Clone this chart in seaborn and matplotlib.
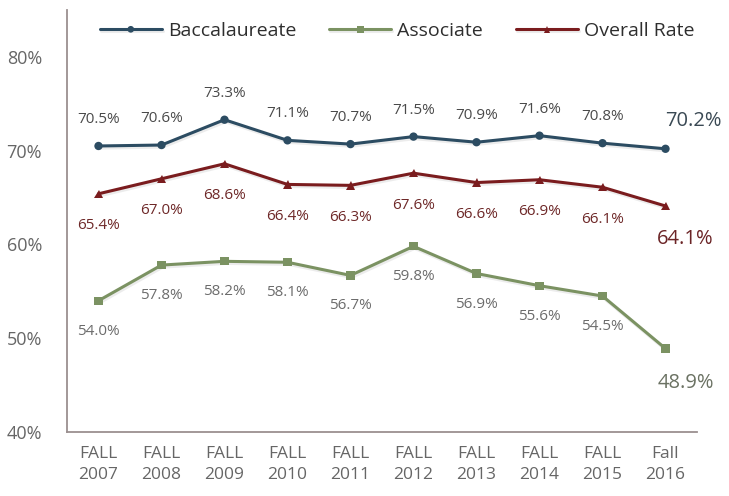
import matplotlib
matplotlib.use("Agg")
import matplotlib.pyplot as plt
import matplotlib.patheffects as pe
import seaborn as sns

# ── Data ──────────────────────────────────────────────────────────────────────
TERMS = ["FALL\n2007", "FALL\n2008", "FALL\n2009", "FALL\n2010", "FALL\n2011",
         "FALL\n2012", "FALL\n2013", "FALL\n2014", "FALL\n2015", "Fall\n2016"]
BACC    = [70.5, 70.6, 73.3, 71.1, 70.7, 71.5, 70.9, 71.6, 70.8, 70.2]
ASSOC   = [54.0, 57.8, 58.2, 58.1, 56.7, 59.8, 56.9, 55.6, 54.5, 48.9]
OVERALL = [65.4, 67.0, 68.6, 66.4, 66.3, 67.6, 66.6, 66.9, 66.1, 64.1]
Y_TICKS = [40, 50, 60, 70, 80]

# ── Colours ───────────────────────────────────────────────────────────────────
BLUE  = "#2c4c62"
GREEN = "#7b9262"
RED   = "#7a1c1e"
SPINE = "#9b9090"
TICK  = "#666666"

sns.set_theme(style="white")
plt.rcParams["font.family"] = ["Open Sans", "DejaVu Sans"]

fig = plt.figure(figsize=(7.29, 4.96), dpi=100)
ax = fig.add_axes([67 / 729, 64 / 496, 630 / 729, 422 / 496])

# faint drop shadow under the lines, as in the original
shadow = [pe.SimpleLineShadow(offset=(0.8, -1.5), shadow_color="#999999", alpha=0.18),
          pe.Normal()]

# (values, label, colour, marker, label colour, label offset, last label colour, last offset)
series = [
    (BACC, "Baccalaureate", BLUE, "o", "#4a4a4a", 19, "#3a4954", (20, 20)),
    (ASSOC, "Associate", GREEN, "s", "#6c6c6c", -22, "#6b7263", (15, -25)),
    (OVERALL, "Overall Rate", RED, "^", "#6e2828", -23, "#6b2426", (14, -24)),
]

xs = list(range(len(TERMS)))
for vals, name, color, marker, lab_c, dy, last_c, last_off in series:
    sns.lineplot(x=xs, y=vals, ax=ax, color=color, marker=marker, markersize=6,
                 markeredgewidth=0, linewidth=2.2, label=name,
                 path_effects=shadow)
    for i, v in enumerate(vals):
        if i == len(vals) - 1:
            ax.annotate(f"{v:.1f}%", (i, v), xytext=last_off, textcoords="offset points",
                        ha="center", va="center", fontsize=14.5, color=last_c)
        else:
            ax.annotate(f"{v:.1f}%", (i, v), xytext=(0, dy), textcoords="offset points",
                        ha="center", va="center", fontsize=11, color=lab_c)

ax.set_xlim(-0.5, 9.5)
ax.set_ylim(40, 85)
ax.set_xticks(xs)
ax.set_xticklabels(TERMS, fontsize=12.5, color=TICK, linespacing=1.45)
ax.set_yticks(Y_TICKS)
ax.set_yticklabels([f"{t}%" for t in Y_TICKS], fontsize=13, color=TICK)
ax.tick_params(axis="both", length=0)
ax.tick_params(axis="x", pad=10)
ax.tick_params(axis="y", pad=18)

for side in ("top", "right"):
    ax.spines[side].set_visible(False)
for side in ("left", "bottom"):
    ax.spines[side].set_color(SPINE)
    ax.spines[side].set_linewidth(1.3)

leg = ax.legend(loc="center", bbox_to_anchor=(0.524, 0.95), ncol=3, frameon=False,
                fontsize=14, handlelength=3.2, columnspacing=1.7, handletextpad=0.3,
                markerscale=0.8)
for t in leg.get_texts():
    t.set_color("#2e2e2e")

fig.savefig("out.png", dpi=100, facecolor="white")
